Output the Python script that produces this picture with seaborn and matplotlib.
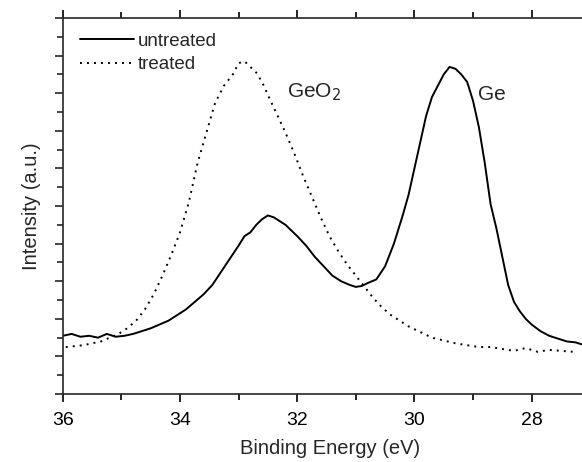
import numpy as np
import pandas as pd
import matplotlib
matplotlib.use("Agg")
import matplotlib.pyplot as plt
import seaborn as sns
from matplotlib.ticker import MultipleLocator, NullFormatter

# Binding energy (eV) and intensity (a.u.)
untreated_x = [36.0, 35.85, 35.7, 35.55, 35.4, 35.25, 35.1, 34.95, 34.8, 34.65, 34.5, 34.35,
               34.2, 34.05, 33.9, 33.75, 33.6, 33.45, 33.3, 33.15, 33.0, 32.9, 32.8, 32.7,
               32.6, 32.5, 32.4, 32.3, 32.2, 32.1, 32.0, 31.85, 31.7, 31.55, 31.4, 31.25,
               31.1, 31.0, 30.9, 30.8, 30.65, 30.5, 30.35, 30.2, 30.1, 30.0, 29.9, 29.8,
               29.7, 29.6, 29.5, 29.4, 29.3, 29.2, 29.1, 29.0, 28.9, 28.8, 28.7, 28.6,
               28.5, 28.4, 28.3, 28.2, 28.1, 28.0, 27.85, 27.7, 27.55, 27.4, 27.25, 27.15]
untreated_y = [3.1, 3.2, 3.05, 3.1, 3.0, 3.2, 3.05, 3.1, 3.2, 3.35, 3.5, 3.7,
               3.9, 4.2, 4.5, 4.9, 5.3, 5.8, 6.5, 7.2, 7.9, 8.4, 8.6, 9.0,
               9.3, 9.5, 9.4, 9.2, 9.0, 8.7, 8.4, 7.9, 7.3, 6.8, 6.3, 6.0,
               5.8, 5.7, 5.75, 5.9, 6.1, 6.8, 8.0, 9.5, 10.6, 12.0, 13.4, 14.8,
               15.8, 16.4, 17.0, 17.4, 17.3, 17.0, 16.6, 15.6, 14.2, 12.3, 10.1, 8.8,
               7.3, 5.8, 4.9, 4.4, 4.0, 3.7, 3.35, 3.1, 2.95, 2.8, 2.75, 2.65]

treated_x = [35.95, 35.8, 35.65, 35.5, 35.35, 35.2, 35.05, 34.9, 34.75, 34.6, 34.45, 34.3,
             34.15, 34.0, 33.85, 33.7, 33.55, 33.4, 33.25, 33.1, 33.0, 32.9, 32.8, 32.7,
             32.6, 32.5, 32.35, 32.2, 32.05, 31.9, 31.75, 31.6, 31.45, 31.3, 31.15, 31.0,
             30.85, 30.7, 30.55, 30.4, 30.25, 30.1, 29.9, 29.7, 29.5, 29.3, 29.1, 28.9,
             28.7, 28.5, 28.3, 28.1, 27.9, 27.7, 27.5, 27.3]
treated_y = [2.5, 2.55, 2.6, 2.7, 2.8, 3.0, 3.2, 3.5, 3.9, 4.5, 5.3, 6.3,
             7.4, 8.6, 10.2, 12.3, 13.9, 15.5, 16.4, 17.0, 17.6, 17.7, 17.4, 17.1,
             16.6, 15.9, 14.9, 13.9, 12.8, 11.6, 10.5, 9.4, 8.4, 7.6, 6.9, 6.3,
             5.7, 5.1, 4.6, 4.2, 3.9, 3.6, 3.3, 3.0, 2.85, 2.7, 2.6, 2.5,
             2.5, 2.4, 2.3, 2.45, 2.25, 2.35, 2.3, 2.25]

series_names = ["untreated", "treated"]
x_ticks = [36, 34, 32, 30, 28]

df = pd.concat([
    pd.DataFrame({"energy": untreated_x, "intensity": untreated_y, "sample": series_names[0]}),
    pd.DataFrame({"energy": treated_x, "intensity": treated_y, "sample": series_names[1]}),
])

sns.set_style("ticks")
plt.rcParams["font.family"] = ["Liberation Sans", "DejaVu Sans"]

fig = plt.figure(figsize=(5.82, 4.62), dpi=100)
ax = fig.add_axes([0.108, 0.147, 0.892, 0.814])

sns.lineplot(data=df, x="energy", y="intensity", hue="sample", style="sample",
             palette={"untreated": "black", "treated": "black"},
             dashes={"untreated": "", "treated": (1, 2.6)},
             linewidth=1.4, sort=False, estimator=None, ax=ax)

ax.set_xlim(36, 27.14)
ax.set_ylim(0, 20)
ax.set_xticks(x_ticks)
ax.xaxis.set_minor_locator(MultipleLocator(1))
ax.yaxis.set_major_locator(MultipleLocator(2))
ax.yaxis.set_minor_locator(MultipleLocator(1))
ax.yaxis.set_major_formatter(NullFormatter())

ax.spines["right"].set_visible(False)
for s in ["left", "bottom", "top"]:
    ax.spines[s].set_linewidth(1.2)
ax.tick_params(axis="x", which="both", direction="out", top=True, labeltop=False,
               labelsize=14, width=1.2, colors="black", pad=7)
ax.tick_params(axis="x", which="major", length=6)
ax.tick_params(axis="x", which="minor", length=4)
ax.tick_params(axis="y", which="major", length=6, width=1.2, direction="out")
ax.tick_params(axis="y", which="minor", length=4, width=1.2, direction="out")

ax.set_xlabel("Binding Energy (eV)", fontsize=14.5)
ax.set_ylabel("Intensity (a.u.)", fontsize=14.5)
ax.xaxis.set_label_coords(0.514, -0.12)
ax.yaxis.set_label_coords(-0.043, 0.5)

ax.text(32.18, 15.8, "GeO$_2$", fontsize=15, ha="left", va="baseline")
ax.text(28.92, 15.65, "Ge", fontsize=15, ha="left", va="baseline")

leg = ax.legend(loc="upper left", frameon=False, fontsize=13.5, handlelength=2.9,
                handletextpad=0.2, borderaxespad=0.0, borderpad=0.0, labelspacing=0.33,
                bbox_to_anchor=(0.033, 0.961))
for h in leg.get_lines():
    h.set_linewidth(1.4)

fig.savefig("out.png", dpi=100)
